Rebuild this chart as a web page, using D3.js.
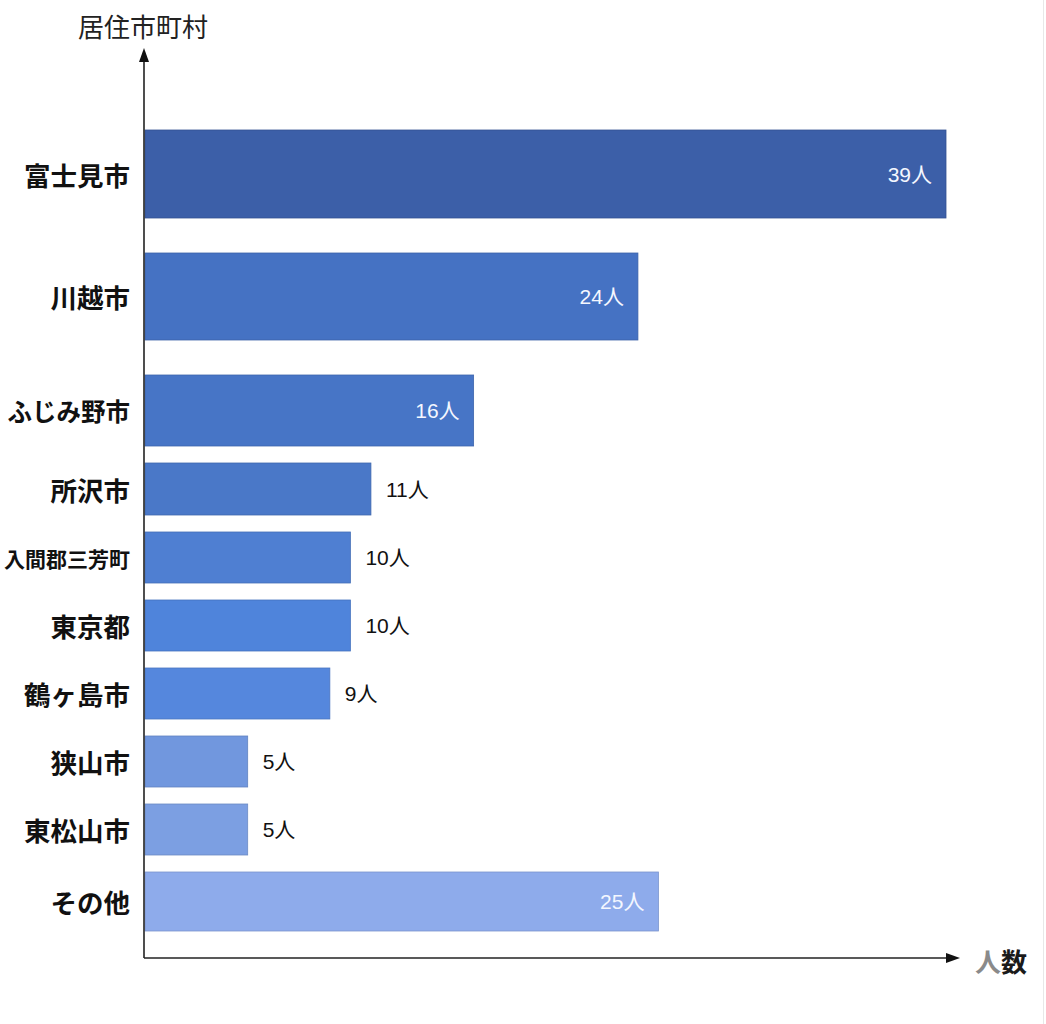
<!DOCTYPE html>
<html>
<head>
<meta charset="utf-8">
<script src="https://cdn.jsdelivr.net/npm/d3@7"></script>
<style>
	body { margin: 0; background: #fff; }
	svg { display: block; }
</style>
</head>
<body>
<svg id="chart" width="1046" height="1024"></svg>
<script>
//chart values
var categories = ["富士見市", "川越市", "ふじみ野市", "所沢市", "入間郡三芳町", "東京都", "鶴ヶ島市", "狭山市", "東松山市", "その他"];
var counts = [39, 24, 16, 11, 10, 10, 9, 5, 5, 25];
var unitSuffix = "人";
var yTitle = "居住市町村";
var xTitle = ["人", "数"];

//layout: relative bar thickness and the gap after each bar
var rowThickness = [88, 87, 71, 52, 51, 51, 51, 51, 51, 59];
var rowGap = [35, 35, 17, 17, 17, 17, 17, 17, 17, 0];
var barColors = ["#3c5fa8", "#4572c3", "#4775c6", "#4a78c8", "#4f7fd2", "#4f84db", "#5587dd", "#7197de", "#7c9fe2", "#8eabeb"];

var svg = d3.select("#chart");
var originX = 144, originY = 958;
var fontCJK = "'Noto Sans CJK JP', 'Noto Sans', sans-serif";
var fontNum = "'Liberation Sans', 'Noto Sans CJK JP', sans-serif";

//cumulative row starts in layout units
var starts = [];
var acc = 0;
for (var i = 0; i < categories.length; i++) {
	starts.push(acc);
	acc += rowThickness[i] + rowGap[i];
}
var total = acc;

var y = d3.scaleLinear().domain([0, total]).range([130, 931]);
var x = d3.scaleLinear().domain([0, 39]).range([originX + 1, 946]);

var rows = categories.map(function(c, i){
	return {name: c, value: counts[i], start: starts[i], size: rowThickness[i], color: barColors[i]};
});

//long names get a smaller font so they fit left of the axis
function labelSize(name){
	if (name.length > 5) return "21px";
	if (name.length == 5) return "24.5px";
	return "26.5px";
}

//faint right border of the picture
svg.append("line")
	.attr("x1", 1043.5).attr("x2", 1043.5)
	.attr("y1", 0).attr("y2", 1024)
	.style("stroke", "#e8e8e8");

//bars
svg.selectAll("rect.bar").data(rows).enter().append("rect")
	.attr("class", "bar")
	.attr("x", x(0))
	.attr("y", function(d){ return y(d.start); })
	.attr("width", function(d){ return x(d.value) - x(0); })
	.attr("height", function(d){ return y(d.start + d.size) - y(d.start); })
	.style("fill", function(d){ return d.color; })
	.style("stroke", function(d){ return d3.color(d.color).darker(0.4); })
	.style("stroke-width", 0.8);

//category labels
svg.selectAll("text.cat").data(rows).enter().append("text")
	.attr("class", "cat")
	.attr("x", 130)
	.attr("y", function(d){ return y(d.start + d.size / 2); })
	.attr("text-anchor", "end")
	.attr("dominant-baseline", "central")
	.style("font-family", fontCJK)
	.style("font-weight", "bold")
	.style("font-size", function(d){ return labelSize(d.name); })
	.style("fill", "#111")
	.text(function(d){ return d.name; });

//value labels: inside (white) for long bars, outside (black) for short ones
svg.selectAll("text.val").data(rows).enter().append("text")
	.attr("class", "val")
	.attr("x", function(d){ return d.value >= 16 ? x(d.value) - 14 : x(d.value) + 15; })
	.attr("y", function(d){ return y(d.start + d.size / 2); })
	.attr("text-anchor", function(d){ return d.value >= 16 ? "end" : "start"; })
	.attr("dominant-baseline", "central")
	.style("font-family", fontNum)
	.style("font-size", "21px")
	.style("fill", function(d){ return d.value >= 16 ? "#f4f7ff" : "#111"; })
	.text(function(d){ return d.value + unitSuffix; });

//axes with arrow heads
svg.append("line")
	.attr("x1", originX).attr("x2", originX)
	.attr("y1", originY).attr("y2", 58)
	.style("stroke", "#222").style("stroke-width", 1.6);
svg.append("path")
	.attr("d", "M" + (originX - 5) + ",62 L" + originX + ",48 L" + (originX + 5) + ",62 Z")
	.style("fill", "#111");

svg.append("line")
	.attr("x1", originX).attr("x2", 950)
	.attr("y1", originY).attr("y2", originY)
	.style("stroke", "#222").style("stroke-width", 1.6);
svg.append("path")
	.attr("d", "M946," + (originY - 5) + " L960," + originY + " L946," + (originY + 5) + " Z")
	.style("fill", "#111");

//axis titles
svg.append("text")
	.attr("x", 78).attr("y", 25)
	.attr("dominant-baseline", "central")
	.style("font-family", fontCJK)
	.style("font-size", "26px")
	.style("fill", "#222")
	.text(yTitle);

var xt = svg.append("text")
	.attr("x", 975).attr("y", 960)
	.attr("dominant-baseline", "central")
	.style("font-family", fontCJK)
	.style("font-weight", "bold")
	.style("font-size", "26px");
xt.append("tspan").style("fill", "#8a8a8a").text(xTitle[0]);
xt.append("tspan").style("fill", "#1a1a1a").text(xTitle[1]);
</script>
</body>
</html>
